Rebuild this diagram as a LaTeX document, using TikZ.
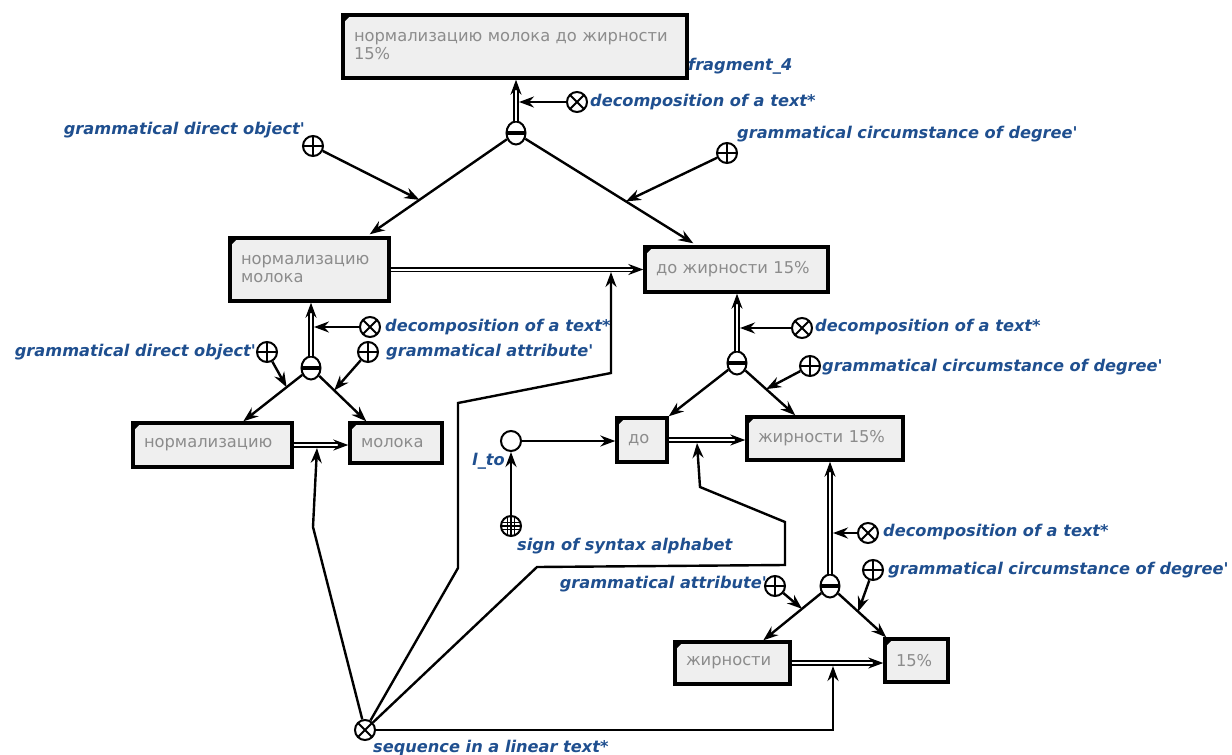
\documentclass[tikz,border=0pt]{standalone}
\usepackage{fontspec}
\setmainfont{DejaVu Sans}
\usetikzlibrary{arrows.meta,calc,shapes.geometric}
\definecolor{lbl}{HTML}{1F4F8F}
\definecolor{boxfill}{HTML}{EFEFEF}
\definecolor{boxtxt}{HTML}{8C8C8C}
\begin{document}
\begin{tikzpicture}[x=1pt,y=-1pt,
  box/.style={draw, line width=3.4pt, fill=boxfill, inner xsep=11pt, inner ysep=0pt,
    align=left, font=\fontsize{16.3}{18}\selectfont, text=boxtxt,
    path picture={\fill[black] (path picture bounding box.north west) -- ++(8pt,0pt) -- ++(-8pt,-8pt) -- cycle;}},
  lab/.style={text=lbl, font=\fontsize{16.2}{19}\selectfont\bfseries\itshape, inner sep=0pt},
  sym/.style={circle, draw, line width=2pt, minimum size=20pt, inner sep=0pt, fill=white},
  plus/.style={sym, path picture={\draw[line width=1.8pt] (path picture bounding box.north) -- (path picture bounding box.south) (path picture bounding box.west) -- (path picture bounding box.east);}},
  times/.style={sym, path picture={\draw[line width=1.8pt] (path picture bounding box.north west) -- (path picture bounding box.south east) (path picture bounding box.south west) -- (path picture bounding box.north east);}},
  minus/.style={ellipse, draw, line width=2pt, minimum width=19pt, minimum height=23pt, inner sep=0pt, fill=white,
     path picture={\draw[line width=3.2pt] (path picture bounding box.west) -- (path picture bounding box.east);}},
  gridc/.style={sym, path picture={\draw[line width=1.3pt]
     ([xshift=-3.5pt]path picture bounding box.north) -- ([xshift=-3.5pt]path picture bounding box.south)
     (path picture bounding box.north) -- (path picture bounding box.south)
     ([xshift=3.5pt]path picture bounding box.north) -- ([xshift=3.5pt]path picture bounding box.south)
     ([yshift=-3.5pt]path picture bounding box.west) -- ([yshift=-3.5pt]path picture bounding box.east)
     (path picture bounding box.west) -- (path picture bounding box.east)
     ([yshift=3.5pt]path picture bounding box.west) -- ([yshift=3.5pt]path picture bounding box.east);}},
  ring/.style={sym},
  arr/.style={line width=2.4pt, -{Stealth[length=15pt,width=11pt,inset=5pt]}},
  dbl/.style={double=white, double distance=2pt, line width=1.6pt, -{Stealth[length=15pt,width=11pt,inset=5pt]}}
]
\useasboundingbox (0,0) rectangle (1232,755);

% boxes
\node[box, minimum width=344pt, minimum height=63pt, text width=322pt] (B0) at (515,46.5) {нормализацию молока до жирности\\15\%};
\node[box, minimum width=159pt, minimum height=63pt, text width=137pt] (B1) at (309.5,269.5) {нормализацию\\молока};
\node[box, minimum width=183pt, minimum height=45pt, text width=161pt] (B2) at (736.5,269.5) {до жирности 15\%};
\node[box, minimum width=159pt, minimum height=44pt, text width=137pt] (B3) at (212.5,445) {нормализацию};
\node[box, minimum width=92pt, minimum height=40pt, text width=70pt] (B4) at (396,443) {молока};
\node[box, minimum width=50pt, minimum height=44pt, text width=28pt] (B5) at (642,440) {до};
\node[box, minimum width=156pt, minimum height=43pt, text width=134pt] (B6) at (825,438.5) {жирности 15\%};
\node[box, minimum width=115pt, minimum height=42pt, text width=93pt] (B7) at (732.5,663) {жирности};
\node[box, minimum width=63pt, minimum height=43pt, text width=41pt] (B8) at (916.5,660.5) {15\%};

% symbols
\node[minus] (M1) at (516,133) {};
\node[times] (X1) at (577,102) {};
\node[plus] (P1a) at (313,146) {};
\node[plus] (P1b) at (727,153) {};
\node[minus] (M2) at (311,368) {};
\node[times] (X2) at (370,327) {};
\node[plus] (P2a) at (267,352) {};
\node[plus] (P2b) at (368,352) {};
\node[minus] (M3) at (737,363) {};
\node[times] (X3) at (802,328) {};
\node[plus] (P3b) at (810,366) {};
\node[minus] (M4) at (830,586) {};
\node[times] (X4) at (868,533) {};
\node[plus] (P4a) at (775,586) {};
\node[plus] (P4b) at (873,570) {};
\node[ring] (O) at (511,441) {};
\node[gridc] (G) at (511,526) {};
\node[times] (S) at (365,730) {};

% end points
\coordinate (e1) at ([xshift=-21pt,yshift=2pt]B1.north east);
\coordinate (e2) at ([xshift=50pt,yshift=2pt]B2.north west);
\coordinate (e3) at ([xshift=112pt]B3.north west);
\coordinate (e4) at ([xshift=18pt]B4.north west);
\coordinate (e5) at (B5.north east);
\coordinate (e6) at ([xshift=50pt]B6.north west);
\coordinate (e7) at ([xshift=90pt]B7.north west);
\coordinate (e8) at ([xshift=3pt]B8.north west);
\coordinate (m1) at ($(M1)!0.66!(e1)$);
\coordinate (m2) at ($(M1)!0.62!(e2)$);
\coordinate (m3) at ($(M2)!0.36!(e3)$);
\coordinate (m4) at ($(M2)!0.42!(e4)$);
\coordinate (m6) at ($(M3)!0.5!(e6)$);
\coordinate (m7) at ($(M4)!0.42!(e7)$);
\coordinate (m8) at ($(M4)!0.5!(e8)$);
\coordinate (x1e) at ([xshift=3pt]M1 |- X1);
\coordinate (x2e) at ([xshift=3pt]M2 |- X2);
\coordinate (x3e) at ([xshift=3pt]M3 |- X3);
\coordinate (x4e) at ([xshift=3pt]M4 |- X4);
\coordinate (d1) at (317,448);
\coordinate (d2) at (611,272);
\coordinate (d3) at (697,443);
\coordinate (d4) at (833,666);

% double arrows
\draw[dbl] (M1) -- (M1 |- B0.south);
\draw[dbl] (M2) -- (M2 |- B1.south);
\draw[dbl] (M3) -- (M3 |- B2.south);
\draw[dbl] (M4) -- (M4 |- B6.south);
\draw[dbl] (B1.east) -- (B2.west);
\draw[dbl] (B3.east) -- (B3.east -| B4.west);
\draw[dbl] (B5.east) -- (B5.east -| B6.west);
\draw[dbl] (B7.east) -- (B7.east -| B8.west);

% arrows
\draw[arr] (M1) -- (e1);
\draw[arr] (M1) -- (e2);
\draw[arr] (P1a) -- (m1);
\draw[arr] (P1b) -- (m2);
\draw[arr] (X1) -- (x1e);
\draw[arr] (M2) -- (e3);
\draw[arr] (M2) -- (e4);
\draw[arr] (P2a) -- (m3);
\draw[arr] (P2b) -- (m4);
\draw[arr] (X2) -- (x2e);
\draw[arr] (M3) -- (e5);
\draw[arr] (M3) -- (e6);
\draw[arr] (P3b) -- (m6);
\draw[arr] (X3) -- (x3e);
\draw[arr] (M4) -- (e7);
\draw[arr] (M4) -- (e8);
\draw[arr] (P4a) -- (m7);
\draw[arr] (P4b) -- (m8);
\draw[arr] (X4) -- (x4e);
\draw[arr] (O) -- (O -| B5.west);
\draw[arr] (G) -- (O);
\draw[arr] (S) -- (313,527) -- (d1);
\draw[arr] (S) -- (458,568) -- (458,403) -- (611,373) -- (d2);
\draw[arr] (S) -- (537,567) -- (785,565) -- (785,522) -- (700,487) -- (d3);
\draw[arr] (S) -- (S -| d4) -- (d4);

% labels
\node[lab, anchor=east] (L1) at (305,130) {grammatical direct object\textquotesingle};
\node[lab, anchor=west] (L2) at (688,66) {fragment\_4};
\node[lab, anchor=west] (L3) at (590,102) {decomposition of a text*};
\node[lab, anchor=west] (L4) at (737,134) {grammatical circumstance of degree\textquotesingle};
\node[lab, anchor=west] (L5) at (385,327) {decomposition of a text*};
\node[lab, anchor=east] (L6) at (256,352) {grammatical direct object\textquotesingle};
\node[lab, anchor=west] (L7) at (386,352) {grammatical attribute\textquotesingle};
\node[lab, anchor=west] (L8) at (815,327) {decomposition of a text*};
\node[lab, anchor=west] (L9) at (822,367) {grammatical circumstance of degree\textquotesingle};
\node[lab, anchor=west] (L10) at (472,461) {l\_to};
\node[lab, anchor=west] (L11) at (517,546) {sign of syntax alphabet};
\node[lab, anchor=west] (L12) at (883,532) {decomposition of a text*};
\node[lab, anchor=west] (L13) at (888,570) {grammatical circumstance of degree\textquotesingle};
\node[lab, anchor=east] (L14) at (767,584) {grammatical attribute\textquotesingle};
\node[lab, anchor=west] (L15) at (373,748) {sequence in a linear text*};
\end{tikzpicture}
\end{document}
